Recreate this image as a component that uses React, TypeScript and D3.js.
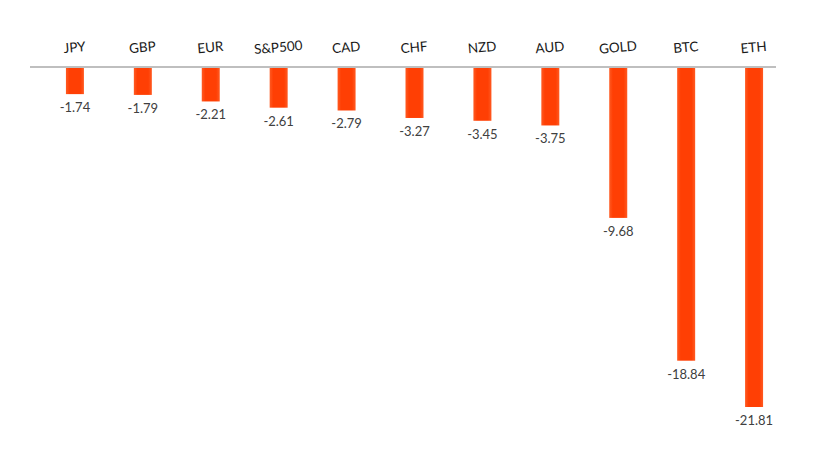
import { useEffect, useRef } from 'react'
import * as d3 from 'd3'

const assets = ['JPY', 'GBP', 'EUR', 'S&P500', 'CAD', 'CHF', 'NZD', 'AUD', 'GOLD', 'BTC', 'ETH']
const returns = [-1.74, -1.79, -2.21, -2.61, -2.79, -3.27, -3.45, -3.75, -9.68, -18.84, -21.81]

const width = 826
const height = 458

export default function App() {
  const ref = useRef<SVGSVGElement>(null)

  useEffect(() => {
    const svg = d3.select(ref.current)
    svg.selectAll('*').remove()

    const x = d3.scaleBand()
      .domain(assets)
      .range([41, 788])
      .paddingInner(0.735)
      .paddingOuter(0.367)

    const y = d3.scaleLinear()
      .domain([0, -21.81])
      .range([67, 407])

    // bar fill: brighter edges, deeper centre
    const grad = svg.append('defs').append('linearGradient')
      .attr('id', 'barFill')
      .attr('x1', '0%').attr('x2', '100%')
    grad.append('stop').attr('offset', '0%').attr('stop-color', '#ff5a22')
    grad.append('stop').attr('offset', '20%').attr('stop-color', '#ff3f04')
    grad.append('stop').attr('offset', '80%').attr('stop-color', '#ff3f04')
    grad.append('stop').attr('offset', '100%').attr('stop-color', '#ff5a22')

    const data = assets.map((a, i) => ({ name: a, value: returns[i] }))

    svg.append('g')
      .selectAll('rect')
      .data(data)
      .join('rect')
      .attr('x', d => x(d.name)!)
      .attr('width', x.bandwidth())
      .attr('y', y(0))
      .attr('height', d => y(d.value) - y(0))
      .attr('fill', 'url(#barFill)')

    // zero line
    svg.append('line')
      .attr('x1', 30).attr('x2', 776)
      .attr('y1', y(0)).attr('y2', y(0))
      .attr('stroke', '#bfbfbf')
      .attr('stroke-width', 2)

    // category names, slightly tilted
    svg.append('g')
      .selectAll('text')
      .data(data)
      .join('text')
      .attr('transform', d => `translate(${x(d.name)! + x.bandwidth() / 2},52) rotate(-5)`)
      .attr('text-anchor', 'middle')
      .attr('font-family', 'Lato, "Open Sans", sans-serif')
      .attr('font-size', 13.5)
      .attr('fill', '#1a1a1a')
      .text(d => d.name)

    // value labels below each bar
    svg.append('g')
      .selectAll('text')
      .data(data)
      .join('text')
      .attr('x', d => x(d.name)! + x.bandwidth() / 2)
      .attr('y', d => y(d.value) + 18)
      .attr('text-anchor', 'middle')
      .attr('font-family', 'Lato, "Open Sans", sans-serif')
      .attr('font-size', 13)
      .attr('fill', '#404040')
      .text(d => d.value.toFixed(2))
  }, [])

  return (
    <svg
      ref={ref}
      width={width}
      height={height}
      style={{ position: 'absolute', left: 0, top: 0, background: '#fff' }}
    />
  )
}
